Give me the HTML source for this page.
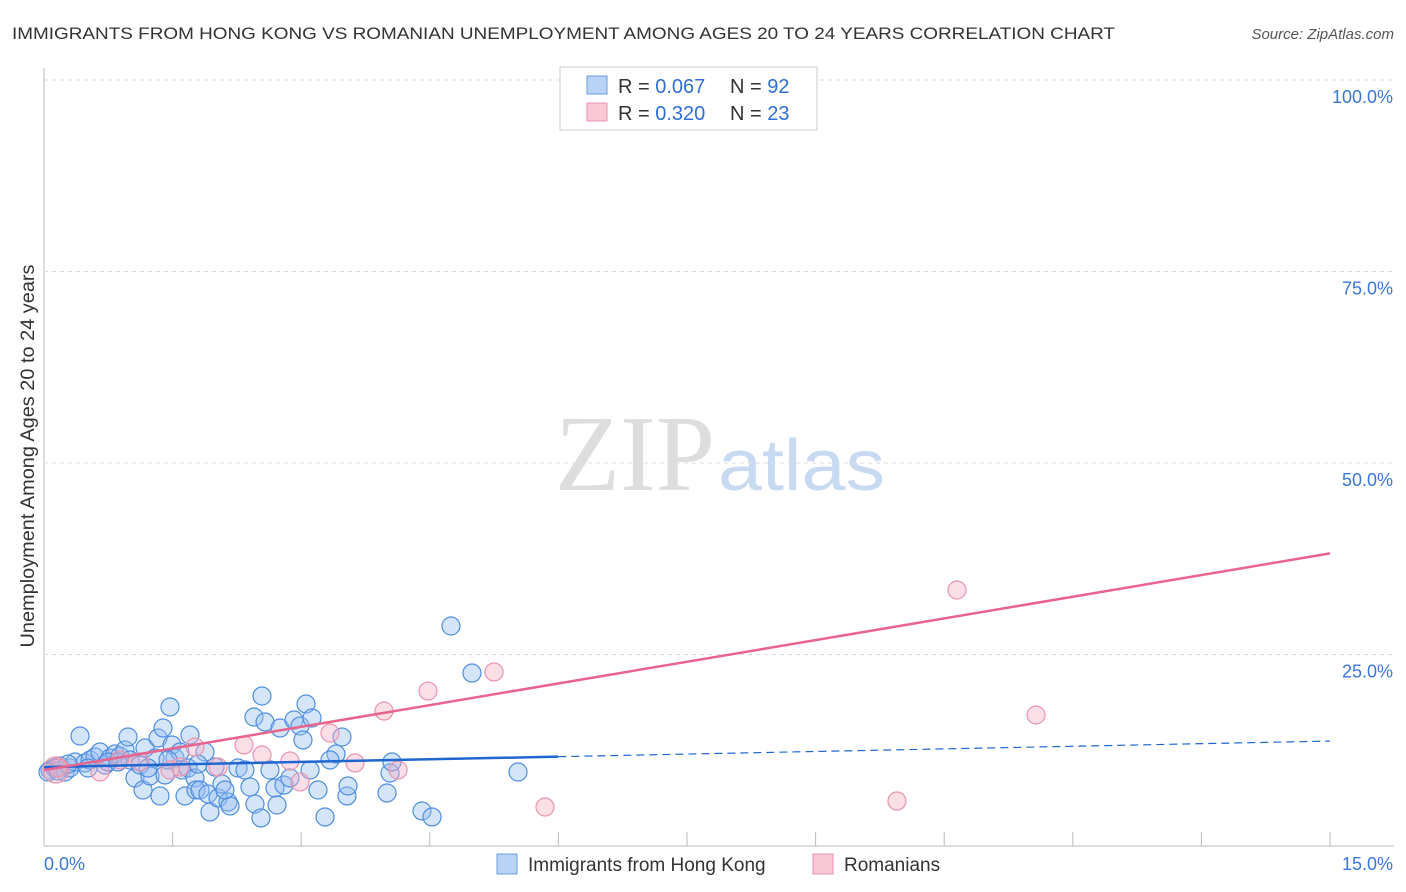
<!DOCTYPE html>
<html><head><meta charset="utf-8"><style>
body{margin:0;background:#fff;font-family:"Liberation Sans",sans-serif;}
#wrap{position:relative;width:1406px;height:892px;overflow:hidden;}
</style></head><body>
<div id="wrap">
<svg id="svg" width="1406" height="892" xmlns="http://www.w3.org/2000/svg">
<text x="12" y="39" font-size="17" fill="#333" textLength="1103" lengthAdjust="spacingAndGlyphs">IMMIGRANTS FROM HONG KONG VS ROMANIAN UNEMPLOYMENT AMONG AGES 20 TO 24 YEARS CORRELATION CHART</text>
<text x="1394" y="39" font-size="15" fill="#555" font-style="italic" text-anchor="end">Source: ZipAtlas.com</text>
<text x="555" y="490" font-size="108" fill="#ddd" font-family="Liberation Serif,serif" textLength="160" lengthAdjust="spacingAndGlyphs">ZIP</text>
<text x="718" y="490" font-size="72" fill="#c8daf2" textLength="167" lengthAdjust="spacingAndGlyphs">atlas</text>
<text transform="translate(34,456) rotate(-90)" font-size="19" fill="#333" text-anchor="middle" textLength="383" lengthAdjust="spacingAndGlyphs">Unemployment Among Ages 20 to 24 years</text>
<g id="grid"></g><g id="marks"></g>
<g>
<rect x="560" y="67" width="257" height="63" fill="#fff" stroke="#ccc"/>
<rect x="587" y="76" width="20" height="18" fill="#b8d3f5" stroke="#6a9de0"/>
<rect x="587" y="103" width="20" height="18" fill="#f8c8d6" stroke="#e890aa"/>
<text x="618" y="93" font-size="20" fill="#333">R = <tspan fill="#2f6fd6">0.067</tspan></text>
<text x="730" y="93" font-size="20" fill="#333">N = <tspan fill="#2f6fd6">92</tspan></text>
<text x="618" y="120" font-size="20" fill="#333">R = <tspan fill="#2f6fd6">0.320</tspan></text>
<text x="730" y="120" font-size="20" fill="#333">N = <tspan fill="#2f6fd6">23</tspan></text>
</g>
<g>
<rect x="497" y="854" width="20" height="20" fill="#b8d3f5" stroke="#6a9de0"/>
<text x="528" y="871" font-size="19" fill="#333">Immigrants from Hong Kong</text>
<rect x="813" y="854" width="20" height="20" fill="#f8c8d6" stroke="#e890aa"/>
<text x="844" y="871" font-size="19" fill="#333">Romanians</text>
</g>
</svg>
</div>
<script>
const yTicks=[25,50,75,100];
const yTickLabels=["25.0%","50.0%","75.0%","100.0%"];
const xTickLabels=["0.0%","15.0%"];
const bluePx=[[50,770],[55,768],[60,766],[65,772],[70,768],[75,762],[80,736],[85,763],[90,760],[95,757],[100,752],[105,765],[110,758],[115,754],[120,756],[125,750],[128,737],[130,760],[135,778],[140,765],[143,790],[145,748],[150,776],[155,758],[158,738],[160,796],[163,728],[165,775],[170,707],[172,745],[175,758],[180,752],[182,770],[185,796],[188,768],[190,735],[195,778],[196,790],[200,790],[205,752],[208,794],[210,812],[215,767],[218,798],[222,784],[228,802],[230,806],[238,768],[250,787],[255,804],[254,717],[261,818],[262,696],[265,722],[270,770],[275,788],[277,805],[280,728],[284,785],[294,720],[300,726],[303,740],[306,704],[312,718],[318,790],[325,817],[336,754],[342,737],[347,796],[348,786],[390,773],[392,762],[387,793],[422,811],[432,817],[451,626],[472,673],[518,772],[48,772],[58,771],[68,764],[88,768],[108,762],[118,762],[148,768],[168,760],[198,764],[225,790],[245,770],[290,778],[310,770],[330,760]];
const pinkPx=[[56,770],[58,768],[100,772],[140,762],[180,767],[195,747],[218,767],[244,745],[262,755],[290,761],[300,782],[330,733],[355,763],[384,711],[398,770],[428,691],[494,672],[545,807],[897,801],[957,590],[1036,715],[170,770],[120,760]];
const blueX=bluePx.map(p=>+((p[0]-44)/1286*15).toFixed(3));
const blueY=bluePx.map(p=>+((846-p[1])/766*100).toFixed(2));
const pinkX=pinkPx.map(p=>+((p[0]-44)/1286*15).toFixed(3));
const pinkY=pinkPx.map(p=>+((846-p[1])/766*100).toFixed(2));
const blueTrend=[10.3,13.7];
const pinkTrend=[9.9,38.2];
const NS="http://www.w3.org/2000/svg";
const X=v=>44+v/15*1286, Y=v=>846-v/100*766;
function mk(t,a,p){const e=document.createElementNS(NS,t);for(const k in a)e.setAttribute(k,a[k]);p.appendChild(e);return e;}
const grid=document.getElementById('grid'),marks=document.getElementById('marks');
mk('line',{x1:44,y1:68,x2:44,y2:846,stroke:'#bbb'},grid);
mk('line',{x1:44,y1:846,x2:1394,y2:846,stroke:'#bbb'},grid);
for(let i=1;i<=10;i++){const l=mk('line',{x1:44+i*128.6,y1:832,x2:44+i*128.6,y2:846,stroke:'#bbb'},grid);}
yTicks.forEach((t,i)=>{
const g=mk('line',{x1:44,y1:Y(t),x2:1394,y2:Y(t),stroke:'#ddd','stroke-dasharray':'4,4'},grid);

const tx=mk('text',{x:1393,y:Y(t)+23,'font-size':18,fill:'#3a78d8','text-anchor':'end'},grid);tx.textContent=yTickLabels[i];
});
const xl=mk('text',{x:44,y:870,'font-size':18,fill:'#3a78d8'},grid);xl.textContent=xTickLabels[0];

const xr=mk('text',{x:1393,y:870,'font-size':18,fill:'#3a78d8','text-anchor':'end'},grid);xr.textContent=xTickLabels[1];

blueX.forEach((x,i)=>{const c=mk('circle',{cx:X(x),cy:Y(blueY[i]),r:9,fill:'rgba(150,190,240,0.4)',stroke:'#4f8ee0','stroke-width':1.2},marks);
});
pinkX.forEach((x,i)=>{const c=mk('circle',{cx:X(x),cy:Y(pinkY[i]),r:i==0?13:9,fill:'rgba(245,175,195,0.4)',stroke:'#eb94ae','stroke-width':1.2},marks);
});
const split=6;
const bmid=blueTrend[0]+(blueTrend[1]-blueTrend[0])*(split/15);
const b1=mk('line',{x1:X(0),y1:Y(blueTrend[0]),x2:X(split),y2:Y(bmid),stroke:'#1f66d0','stroke-width':2.5},marks);

const b2=mk('line',{x1:X(split),y1:Y(bmid),x2:X(15),y2:Y(blueTrend[1]),stroke:'#1f66d0','stroke-width':1.2,'stroke-dasharray':'8,5'},marks);

const p1=mk('line',{x1:X(0),y1:Y(pinkTrend[0]),x2:X(15),y2:Y(pinkTrend[1]),stroke:'#e8638d','stroke-width':2.5},marks);

</script>
</body></html>
